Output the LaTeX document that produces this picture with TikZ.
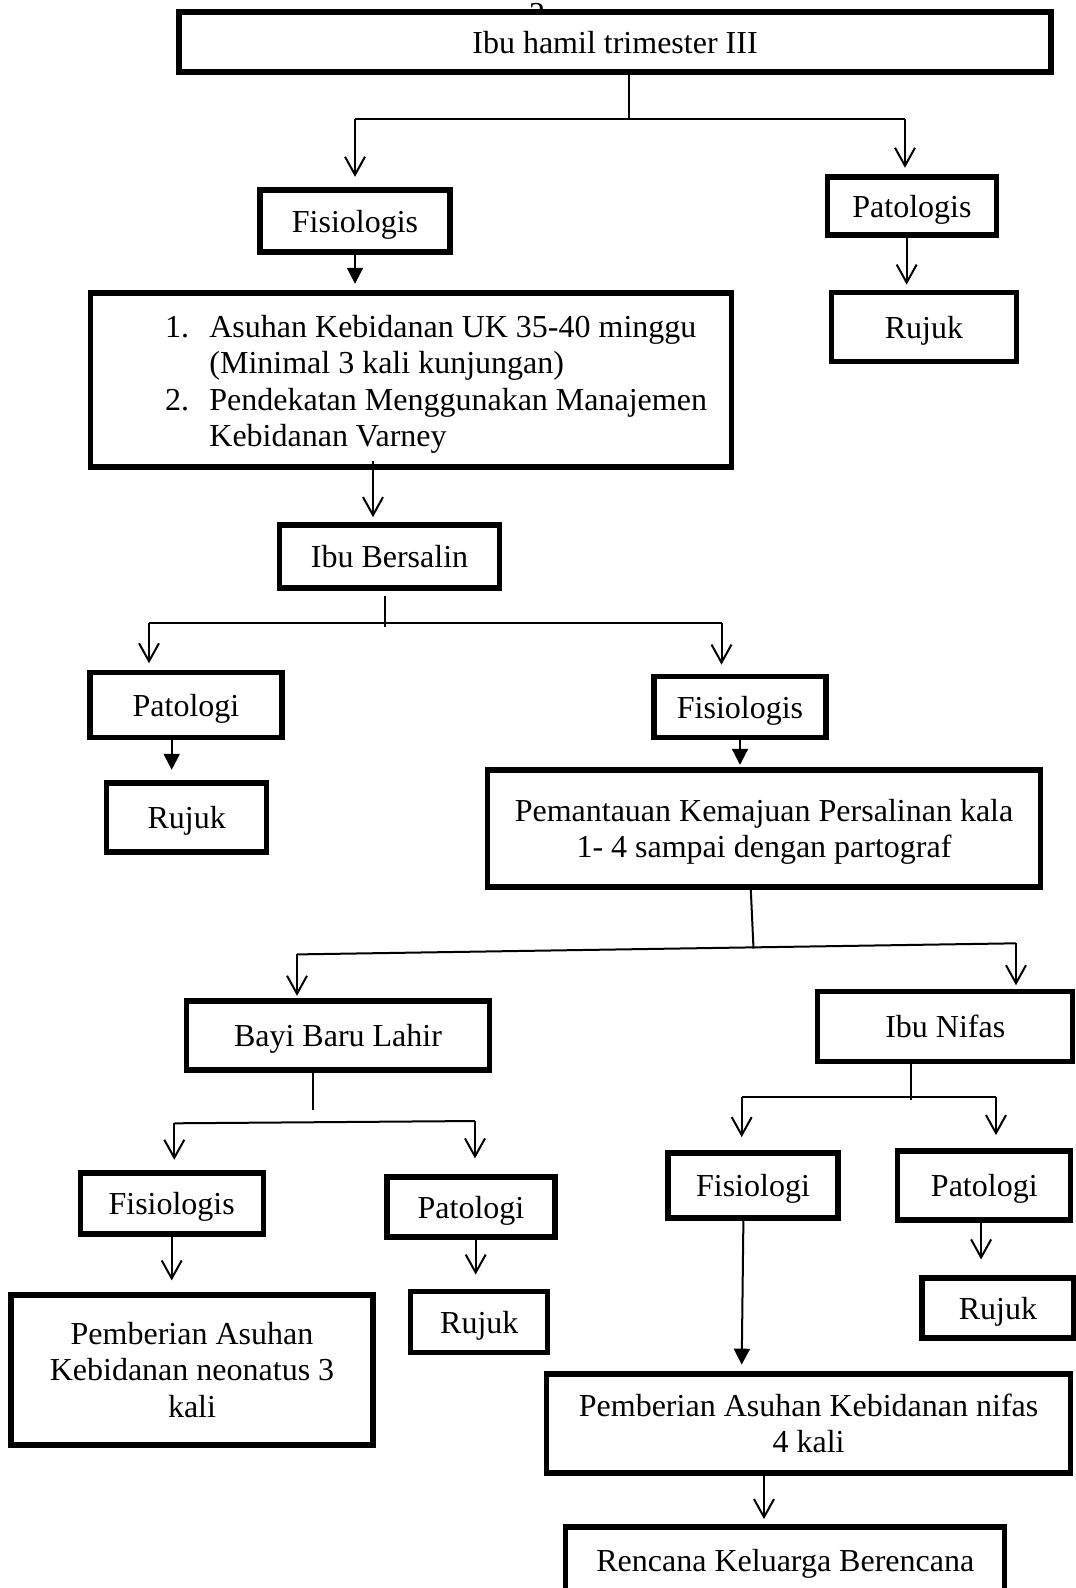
\documentclass[tikz,border=0pt]{standalone}
\usepackage{fontspec}
\setmainfont{Liberation Serif}
\usetikzlibrary{arrows.meta}

\def\pxunit{0.375pt}

\begin{document}
\begin{tikzpicture}[x=\pxunit, y=-\pxunit,
    txt/.style={inner sep=0pt, font=\fontsize{12pt}{13.7pt}\selectfont},
    box/.style 2 args={txt, draw, line width=1.9pt, fill=white, align=center,
      minimum width=#1*\pxunit, minimum height=#2*\pxunit},
    onebox/.style 2 args={box={#1}{#2}, text height=8.25pt, text depth=0pt},
    link/.style={line width=0.75pt},
    openarrow/.style={link, -{Straight Barb[length=6.75pt,width=7.5pt]}},
    fillarrow/.style={link, -{Triangle[length=6pt,width=6pt]}}]
      \useasboundingbox (0,0) rectangle (1076,1588);
      \clip (0,0) rectangle (1076,1588);
      \node[txt] (pagenum) at (537, 14) {2};
      \node[onebox={872}{60}] (hamil) at (615, 42) {Ibu hamil trimester III};
      \node[onebox={190}{62}] (fisio1) at (355, 221) {Fisiologis};
      \node[onebox={169}{58}] (pato1) at (912, 206) {Patologis};
      \node[onebox={185}{69}] (rujuk1) at (924, 327) {Rujuk};
      \node[box={641}{174}] (asuhan) at (411, 380) {};
      \node[txt, anchor=west, align=left] (asuhantxt) at (164.6, 384.5) {\makebox[16.6pt][l]{1.}Asuhan Kebidanan UK 35-40 minggu\\
        \hspace*{16.6pt}(Minimal 3 kali kunjungan)\\
        \makebox[16.6pt][l]{2.}Pendekatan Menggunakan Manajemen\\
        \hspace*{16.6pt}Kebidanan Varney};
      \node[onebox={220}{63}] (bersalin) at (389.5, 556.5) {Ibu Bersalin};
      \node[onebox={192}{65}] (pato2) at (186, 705) {Patologi};
      \node[onebox={160}{69}] (rujuk2) at (186.7, 817.5) {Rujuk};
      \node[onebox={172}{61}] (fisio2) at (740, 707) {Fisiologis};
      \node[box={553}{117}, text depth=-0.2pt] (pantau) at (764, 828.5) {Pemantauan Kemajuan Persalinan kala\\1- 4 sampai dengan partograf};
      \node[onebox={303}{69}] (bayi) at (338, 1035.5) {Bayi Baru Lahir};
      \node[onebox={255}{70}] (nifas) at (945.3, 1026.8) {Ibu Nifas};
      \node[onebox={183}{61}] (fisio3) at (171.7, 1203.5) {Fisiologis};
      \node[onebox={168}{60}] (pato3) at (471, 1207) {Patologi};
      \node[box={362}{150}] (neonatus) at (192, 1370) {Pemberian Asuhan\\Kebidanan neonatus 3\\kali};
      \node[onebox={137}{61}] (rujuk3) at (479.3, 1322.3) {Rujuk};
      \node[onebox={170}{65}] (fisio4) at (753, 1185.5) {Fisiologi};
      \node[onebox={173}{69}] (pato4) at (984.3, 1185.5) {Patologi};
      \node[onebox={152}{60}] (rujuk4) at (998, 1308) {Rujuk};
      \node[box={524}{99}] (asnifas) at (808.6, 1423.5) {Pemberian Asuhan Kebidanan nifas\\4 kali};
      \node[onebox={439}{66}] (kb) at (785.3, 1560) {Rencana Keluarga Berencana};
      \coordinate (jA) at (629, 118.5);
      \coordinate (jAl) at (355, 118.5);
      \coordinate (jAr) at (905, 118.5);
      \draw[link] (hamil.south -| jA) -- (jA);
      \draw[link] (jAl) -- (jAr);
      \draw[openarrow, shorten >=4pt] (jAl) -- (jAl |- fisio1.north);
      \draw[openarrow, shorten >=2.5pt] (jAr) -- (jAr |- pato1.north);
      \draw[fillarrow, shorten >=2.5pt] (fisio1.south) -- (fisio1.south |- asuhan.north);
      \draw[openarrow, shorten >=2pt] ([xshift=-2pt]pato1.south) -- ([xshift=-2pt]pato1.south |- rujuk1.north);
      \coordinate (sB) at (373, 461);
      \draw[openarrow, shorten >=2pt] (sB) -- (sB |- bersalin.north);
      \coordinate (jB) at (384.5, 627);
      \coordinate (jBl) at (149, 622.7);
      \coordinate (jBr) at (721.5, 622.7);
      \draw[link] ([yshift=-2pt]bersalin.south -| jB) -- (jB);
      \draw[link] (jBl) -- (jBr);
      \draw[openarrow, shorten >=2.5pt] (jBl) -- (jBl |- pato2.north);
      \draw[openarrow, shorten >=3.5pt] (jBr) -- (jBr |- fisio2.north);
      \coordinate (sP) at (171.7, 738);
      \draw[fillarrow, shorten >=4pt] (pato2.south -| sP) -- (sP |- rujuk2.north);
      \draw[fillarrow, shorten >=1pt] (fisio2.south) -- (fisio2.south |- pantau.north);
      \coordinate (sC) at (750.8, 891.7);
      \coordinate (jC) at (753.5, 948.5);
      \coordinate (jCl) at (297, 954.4);
      \coordinate (jCr) at (1016, 943.3);
      \draw[link] (pantau.south -| sC) -- (jC);
      \draw[link] (jCl) -- (jCr);
      \draw[openarrow, shorten >=1pt] (jCl) -- (jCl |- bayi.north);
      \draw[openarrow, shorten >=1.5pt] (jCr) -- (jCr |- nifas.north);
      \coordinate (sD) at (313, 1110);
      \coordinate (jDl) at (174.3, 1123.3);
      \coordinate (jDr) at (475, 1121);
      \draw[link] (bayi.south -| sD) -- (sD);
      \draw[link] (jDl) -- (jDr);
      \draw[openarrow, shorten >=4pt] (jDl) -- (jDl |- fisio3.north);
      \draw[openarrow, shorten >=6pt] (jDr) -- (jDr |- pato3.north);
      \coordinate (jE) at (910.7, 1100);
      \coordinate (jEl) at (741.7, 1097.3);
      \coordinate (jEr) at (996, 1097.3);
      \draw[link] (nifas.south -| jE) -- (jE);
      \draw[link] (jEl) -- (jEr);
      \draw[openarrow, shorten >=5pt] (jEl) -- (jEl |- fisio4.north);
      \draw[openarrow, shorten >=5pt] (jEr) -- (jEr |- pato4.north);
      \draw[openarrow, shorten >=4.5pt] (fisio3.south) -- (fisio3.south |- neonatus.north);
      \coordinate (sR) at (475.7, 1237);
      \draw[openarrow, shorten >=5.5pt] (pato3.south -| sR) -- (sR |- rujuk3.north);
      \coordinate (sF) at (743.4, 1218);
      \coordinate (tF) at (741.6, 1374);
      \draw[fillarrow, shorten >=3.5pt] (fisio4.south -| sF) -- (tF);
      \draw[openarrow, shorten >=6pt] ([xshift=-1.2pt]pato4.south) -- ([xshift=-1.2pt]pato4.south |- rujuk4.north);
      \coordinate (sK) at (764, 1473);
      \draw[openarrow, shorten >=2pt] (asnifas.south -| sK) -- (sK |- kb.north);
    \end{tikzpicture}
\end{document}
